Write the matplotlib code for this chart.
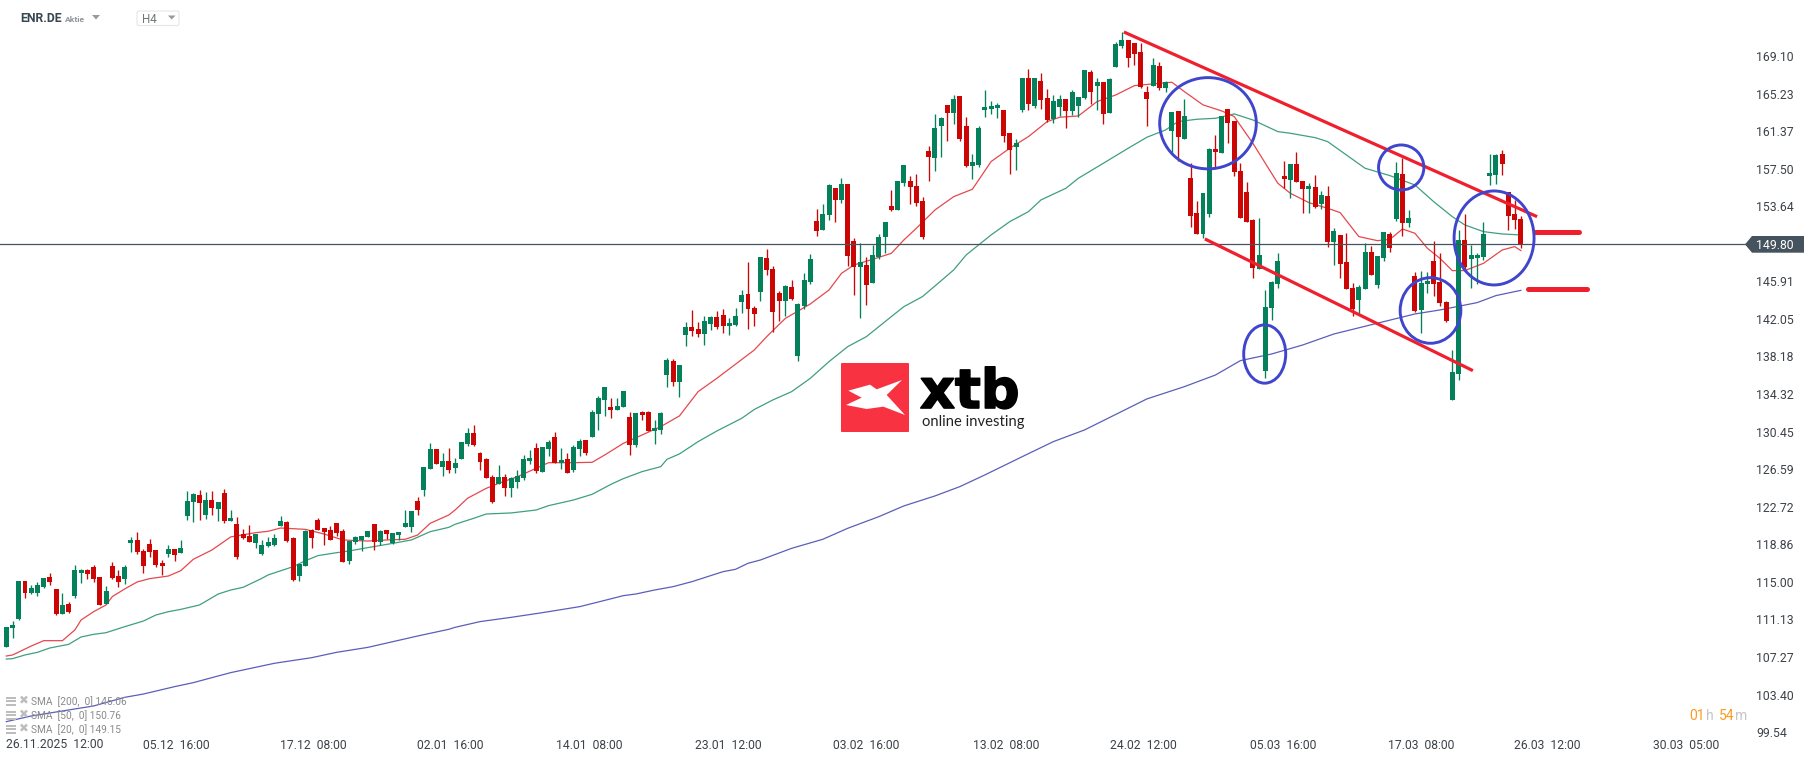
import matplotlib
matplotlib.use('Agg')
import matplotlib.pyplot as plt
import matplotlib.patheffects as pe
import numpy as np
from matplotlib.patches import Ellipse, Polygon, Rectangle, FancyBboxPatch
from matplotlib.transforms import Affine2D

# velas H4 ENR.DE
opens = [108.37,110.36,111.22,115.16,113.89,113.92,114.54,115.57,114.34,111.76,
 112.79,113.62,115.98,116.29,116.60,115.57,112.79,116.70,115.67,115.36,
 119.07,119.38,118.25,118.97,118.35,117.01,117.94,118.45,118.04,121.85,
 123.29,124.01,121.95,123.49,122.57,124.21,121.33,121.02,119.99,119.79,
 119.07,117.94,118.76,118.86,120.82,121.23,119.58,115.67,116.70,120.41,
 121.43,120.61,120.41,121.13,120.30,117.22,119.17,119.38,119.69,121.02,
 119.17,120.41,119.07,119.89,120.71,120.71,123.39,124.52,126.68,128.74,
 126.89,127.50,126.79,127.71,129.26,130.39,128.33,127.71,125.86,125.14,
 125.86,124.73,125.35,125.76,127.51,128.85,126.38,128.74,129.98,127.30,
 127.71,126.58,128.74,129.67,129.98,132.34,133.78,133.06,132.76,133.06,
 132.04,129.15,132.55,132.55,130.60,130.70,136.36,137.80,135.64,140.47,
 141.30,141.09,140.57,141.60,142.32,142.52,141.39,141.50,143.86,144.69,
 143.25,144.89,148.39,147.26,144.79,143.96,145.41,138.31,143.45,145.92,
 152.20,151.27,152.81,155.59,154.36,156.00,150.14,147.46,147.67,145.82,
 148.49,150.55,153.74,153.33,156.11,156.32,155.80,154.26,159.40,158.68,
 161.97,164.14,163.31,165.06,161.97,157.86,157.96,163.62,163.72,163.83,
 163.62,161.25,159.81,163.62,166.91,164.03,166.60,164.85,162.69,163.93,
 164.75,163.52,164.03,164.85,167.53,166.09,166.50,163.31,168.05,170.21,
 170.82,170.51,169.59,165.47,166.09,168.15,165.88,161.46,163.52,160.64,
 156.62,153.02,150.86,152.92,159.61,159.20,163.72,162.49,157.35,155.18,
 152.30,147.26,136.77,143.25,145.72,156.83,156.42,158.06,156.31,155.49,
 155.70,153.95,154.77,150.04,150.76,147.98,145.31,144.07,145.20,149.01,
 145.61,148.39,150.86,152.40,157.03,151.99,146.54,143.04,145.72,148.08,
 145.92,143.86,133.78,136.46,150.24,148.29,148.39,148.49,156.83,156.93,
 159.09,155.18,152.92,152.40]

closes = [110.43,110.63,115.16,113.92,114.44,114.75,115.47,115.06,111.76,112.69,
 111.97,116.29,116.29,115.88,115.36,112.69,114.13,115.47,115.06,116.60,
 119.38,118.14,116.70,118.14,116.80,116.70,118.45,117.83,118.55,123.39,
 124.11,123.18,123.49,122.67,123.29,121.33,121.64,117.63,119.58,119.17,
 119.99,118.86,119.17,119.58,121.33,119.27,115.26,116.91,120.30,119.58,
 120.41,120.20,119.38,120.10,117.11,119.27,119.69,119.79,120.30,119.17,
 120.30,119.99,120.10,120.20,121.13,122.36,122.46,126.89,128.74,127.20,
 127.50,126.58,127.30,129.46,130.39,129.15,127.41,125.76,123.29,125.86,
 124.73,125.76,125.96,127.71,127.82,126.48,128.95,129.46,127.30,127.61,
 126.27,128.95,129.57,128.33,132.55,133.99,135.12,132.76,133.17,134.71,
 129.15,132.45,132.24,130.60,130.90,132.45,137.90,135.64,137.39,141.30,
 140.88,140.57,141.91,142.32,141.30,141.39,141.70,142.42,144.58,143.14,
 142.63,148.49,147.15,142.83,143.96,145.51,144.17,143.66,146.13,148.29,
 151.17,152.92,155.90,154.36,156.00,148.59,147.46,147.98,145.61,148.70,
 150.55,152.09,153.33,156.31,157.96,155.70,154.05,150.56,158.79,161.77,
 162.80,163.31,164.75,160.64,157.86,158.27,161.77,163.93,164.03,164.14,
 160.95,159.51,160.23,166.91,164.24,166.91,164.65,162.59,164.55,164.75,
 163.52,165.47,164.96,167.74,165.47,166.50,163.21,166.81,170.41,170.82,
 168.97,169.38,165.99,164.75,168.25,165.88,166.50,163.41,160.84,163.00,
 152.71,150.86,155.08,159.61,159.30,163.00,162.28,157.24,152.51,152.10,
 147.36,148.70,143.35,145.92,148.08,156.52,158.06,156.21,155.49,155.80,
 153.64,154.87,150.04,151.17,147.77,145.20,143.14,145.41,149.01,146.64,
 148.60,151.07,149.42,157.14,151.99,152.51,142.94,145.82,146.03,145.72,
 143.76,141.91,136.66,150.24,147.47,148.70,148.70,150.86,157.14,158.99,
 158.06,152.71,152.30,149.83]

highs = [110.43,111.04,115.16,115.16,114.71,115.06,115.47,115.98,114.34,113.92,
 113.00,116.80,116.39,116.39,116.80,115.57,114.64,117.11,116.29,116.80,
 119.69,120.20,118.45,119.48,118.35,117.32,118.86,118.45,119.38,124.42,
 124.21,124.52,124.31,124.42,123.29,124.62,122.46,121.74,120.51,120.92,
 119.99,119.38,119.69,119.99,121.85,121.33,119.69,116.91,120.41,120.51,
 121.64,120.61,120.82,121.13,120.51,119.27,119.79,119.79,120.30,121.02,
 120.41,120.41,120.10,120.20,122.46,122.36,123.80,126.89,129.36,128.74,
 128.33,128.84,127.82,129.46,130.90,131.21,128.43,127.82,126.07,127.09,
 126.17,125.86,126.58,128.13,128.64,129.36,128.95,129.67,130.49,128.85,
 128.33,129.15,129.77,129.67,132.76,134.20,135.12,133.99,133.99,134.71,
 132.55,132.45,132.65,132.65,131.73,132.55,138.11,138.00,137.39,141.81,
 143.04,141.81,142.43,142.43,142.94,143.14,142.22,143.25,145.10,147.98,
 143.45,148.49,149.32,147.57,144.99,145.61,146.13,143.76,146.85,148.80,
 153.43,153.94,156.00,155.59,156.62,156.00,150.45,149.93,148.49,149.73,
 150.86,152.09,155.38,156.31,157.96,156.83,157.04,154.67,159.92,163.21,
 162.90,164.14,165.16,165.06,162.90,159.09,161.97,165.68,164.55,164.34,
 163.62,161.25,160.64,166.91,167.84,166.91,167.43,165.78,165.16,165.16,
 164.75,165.68,164.96,167.74,167.74,166.91,166.50,166.91,170.62,171.65,
 170.82,170.51,170.51,166.09,168.97,168.56,166.60,163.41,163.52,164.75,
 158.17,154.26,155.08,159.71,161.05,163.00,163.72,162.49,158.17,156.21,
 152.40,152.51,145.10,146.03,148.91,158.37,158.06,159.30,156.31,156.11,
 156.93,155.28,155.80,151.48,150.76,150.96,145.82,145.61,149.93,149.63,
 148.60,151.07,151.07,158.27,158.68,153.33,146.95,147.05,146.95,150.14,
 148.91,143.97,138.93,151.27,152.92,149.73,148.91,152.10,159.09,159.09,
 159.50,155.18,154.36,152.71]

lows = [108.37,109.29,111.15,113.41,113.82,113.65,114.44,114.75,111.66,111.76,
 111.87,113.41,114.95,115.36,115.06,112.69,112.79,115.36,114.54,114.85,
 118.14,117.94,115.98,117.63,116.60,115.78,117.63,117.22,118.04,121.43,
 121.23,121.43,121.54,121.95,121.33,121.13,121.33,117.42,119.48,119.17,
 118.55,117.83,118.66,118.76,120.82,119.17,115.16,115.16,116.70,118.55,
 120.41,118.86,119.38,119.79,117.11,116.91,118.97,118.25,119.69,118.35,
 118.86,119.48,118.97,119.38,120.71,120.20,121.95,123.90,126.68,127.20,
 125.96,126.27,126.27,127.71,129.05,129.05,126.58,125.76,123.19,125.14,
 123.90,123.80,124.73,125.55,127.20,126.27,126.38,128.02,127.30,126.69,
 126.27,126.38,128.02,128.13,129.98,130.70,132.14,131.93,132.76,133.06,
 128.13,128.95,131.73,130.60,129.26,130.29,135.12,135.23,134.09,139.34,
 140.37,140.27,139.44,140.99,141.09,140.67,140.47,141.39,142.73,141.08,
 141.39,143.96,146.64,140.78,141.91,142.42,144.07,137.80,143.14,145.71,
 150.65,151.27,152.30,152.09,154.05,147.57,144.58,142.22,143.55,145.82,
 148.29,148.90,153.22,153.33,155.80,153.95,153.74,150.35,156.32,157.35,
 158.79,160.43,162.18,160.43,157.76,156.52,157.76,162.90,163.21,162.80,
 160.33,157.04,157.45,163.41,163.62,163.83,163.72,162.39,162.28,163.00,
 161.77,163.11,162.90,164.75,164.24,163.62,162.18,163.31,168.05,170.00,
 168.05,168.25,165.88,161.97,166.09,165.68,165.47,159.20,158.37,160.64,
 151.58,150.86,150.45,152.61,157.76,159.20,160.23,156.83,152.51,152.10,
 146.33,147.26,136.05,142.01,145.31,155.59,154.56,156.21,153.02,153.02,
 153.53,153.43,149.52,147.67,146.33,145.20,142.42,142.63,145.20,146.64,
 145.31,148.08,149.01,152.20,150.66,151.58,142.84,140.68,144.79,144.48,
 143.45,141.81,133.78,135.84,147.05,145.31,145.72,148.19,155.90,156.00,
 156.93,151.27,151.37,149.42]

# medias moviles: vela (indice) y valor
sma20_idx = [0,1,2,4,6,9,11,12,14,16,17,19,21,23,26,28,30,33,36,40,42,44,48,51,54,58,61,64,66,68,71,
 72,74,77,79,82,85,87,91,94,96,99,102,105,108,111,114,120,122,125,129,132,134,136,139,142,144,146,
 149,152,155,158,161,164,167,169,172,175,178,181,185,187,189,192,195,197,200,204,206,209,212,214,
 217,220,222,224,226,228,230,232,234,237,240,242,243]
sma20_val = [107.44,107.55,107.85,108.47,109.02,109.02,110.12,111.15,112.00,112.69,113.55,114.34,115.06,115.40,115.67,116.22,117.39,118.35,119.69,120.13,120.27,120.61,120.47,119.99,119.38,119.27,119.38,119.45,119.89,121.09,121.95,
 122.46,123.67,124.69,125.21,125.89,126.75,127.33,127.33,127.37,128.12,129.32,130.18,131.04,132.14,134.64,136.01,138.92,140.30,142.18,143.66,145.10,146.81,147.67,148.25,148.87,150.24,151.44,
 153.33,154.70,155.46,158.31,159.68,160.88,162.42,162.87,163.00,164.48,165.16,166.12,166.36,166.47,165.51,164.14,163.52,162.94,160.19,156.08,155.05,154.08,153.50,153.06,
 150.59,150.17,150.31,151.37,150.93,149.39,148.36,147.09,147.09,147.84,149.21,149.56,149.15]

sma50_idx = [0,1,3,5,7,10,12,14,16,19,22,24,26,28,31,34,36,38,41,42,46,48,50,53,55,58,62,65,68,71,
 72,75,77,81,85,87,91,94,97,99,102,105,106,108,111,114,118,120,123,126,129,132,135,138,142,144,147,150,
 152,154,156,158,161,164,166,170,172,176,180,183,186,188,191,194,197,200,204,206,210,212,215,218,222,226,229,232,234,237,240,243]
sma50_val = [107.13,107.17,107.55,107.82,108.27,108.64,109.40,109.67,109.84,110.46,111.04,111.66,112.00,112.24,112.69,113.82,114.23,114.51,115.43,115.78,116.63,117.25,117.77,118.07,118.25,118.59,119.03,119.38,120.23,120.68,
 120.99,121.61,122.05,122.16,122.46,122.91,123.49,124.08,125.10,125.69,126.41,126.92,127.68,128.23,129.50,130.59,131.90,132.80,133.79,134.64,136.01,137.73,139.27,140.30,142.36,143.38,144.42,146.06,
 147.16,148.70,149.73,150.76,152.13,153.16,154.36,155.56,156.59,158.13,159.68,160.81,161.56,162.42,162.66,162.76,163.21,162.59,161.39,161.22,160.77,160.36,158.99,157.62,156.86,155.90,154.19,152.64,151.79,151.10,150.86,150.76]

sma200_idx = [0,4,10,14,19,22,27,30,34,36,43,49,53,58,66,71,72,76,81,86,92,95,99,101,104,107,110,115,117,119,121,
 126,131,135,140,144,149,153,157,163,168,173,183,189,194,198,203,208,213,221,226,230,236,239,243]
sma200_val = [100.69,101.27,101.89,102.30,103.19,103.53,104.29,104.70,105.39,105.73,106.69,107.27,107.82,108.33,109.50,110.19,110.39,110.98,111.42,111.90,112.52,113.00,113.65,113.82,114.23,114.58,115.09,116.12,116.36,116.98,117.32,
 118.52,119.45,120.58,121.78,122.88,123.91,124.87,126.07,127.95,129.50,130.70,133.89,135.15,136.35,137.83,138.51,139.44,140.57,141.84,142.63,143.04,143.80,144.52,145.06]

# ejes
price_ticks = [169.10,165.23,161.37,157.50,153.64,145.91,142.05,138.18,134.32,130.45,126.59,122.72,118.86,115.00,111.13,107.27,103.40,99.54]
last_price = 149.80
date_ticks = [27.2,49.2,71.2,93.6,115.8,138.0,160.4,182.4,204.8,227.0,247.3,269.5]
date_labels = ['05.12  16:00','17.12  08:00','02.01  16:00','14.01  08:00','23.01  12:00','03.02  16:00',
 '13.02  08:00','24.02  12:00','05.03  16:00','17.03  08:00','26.03  12:00','30.03  05:00']

# anotaciones a mano alzada (vela, precio)
trend_x = [[179.3,245.6],[192.3,235.3]]
trend_y = [[171.64,152.64],[150.35,136.80]]
level_x = [[245.3,252.3],[244.2,253.6]]
level_y = [151.10,145.17]
circle_x = [192.8,223.8,238.7,228.5,201.9]
circle_y = [162.25,157.70,150.45,142.99,138.51]
circle_w = [15.5,7.27,12.83,9.74,6.74]
circle_h = [9.39,4.63,9.67,6.75,6.0]

plt.rcParams['font.family'] = ['Roboto', 'DejaVu Sans']

GREEN = '#04805a'
RED = '#cc0605'
TXT = '#3c4248'

fig = plt.figure(figsize=(18.16,7.61), dpi=100, facecolor='white')
ax = fig.add_axes([0,0,1,1])
ax.set_xlim(-1.011,290.35)
ax.set_ylim(96.64,174.93)
ax.axis('off')

# coordenadas en pixeles para los elementos de interfaz
px = Affine2D().scale(1/1816,-1/761).translate(0,1) + fig.transFigure

ax.plot(sma200_idx,sma200_val,color='#5a5fb8',lw=0.9,zorder=2)
ax.plot(sma50_idx,sma50_val,color='#3f9f7e',lw=0.9,zorder=2)
ax.plot(sma20_idx,sma20_val,color='#e5484d',lw=0.9,zorder=2)

o = np.array(opens)
c = np.array(closes)
xs = np.arange(len(o))
cols = [GREEN if c[i] >= o[i] else RED for i in xs]
ax.vlines(xs,lows,highs,colors=cols,lw=0.95,zorder=3)
ax.bar(xs,np.abs(c-o),bottom=np.minimum(o,c),width=0.8,color=cols,linewidth=0,zorder=3)

ax.plot([-1.011,278.9],[last_price,last_price],color='#45535e',lw=0.9,zorder=4)

for i in range(2):
    ax.plot(trend_x[i],trend_y[i],color='#f01f2e',lw=2.3,zorder=5,solid_capstyle='butt')
    ax.plot(level_x[i],[level_y[i],level_y[i]],color='#f01f2e',lw=3.6,zorder=5,solid_capstyle='round')
for i in range(5):
    ax.add_patch(Ellipse((circle_x[i],circle_y[i]),circle_w[i],circle_h[i],fill=False,
                         edgecolor='#3f45cc',lw=2.1,zorder=6))

# etiquetas de precio
ytrans = ax.get_yaxis_transform()
for p in price_ticks:
    ax.text(1756/1816,p-0.08,'%.2f' % p,transform=ytrans,ha='left',va='center',fontsize=8.8,color=TXT)
ax.add_patch(Polygon([[1745,244.4],[1752,236],[1804,236],[1804,252.7],[1752,252.7]],closed=True,
                     transform=px,facecolor='#45535e',edgecolor='none',zorder=7,clip_on=False))
ax.text(1756/1816,last_price-0.08,'%.2f' % last_price,transform=ytrans,ha='left',va='center',fontsize=8.8,color='white',zorder=8)

# etiquetas de fecha
for t,lab in zip(date_ticks,date_labels):
    ax.text(t,0.021,lab,transform=ax.get_xaxis_transform(),ha='center',va='center',fontsize=8.7,color=TXT)
fig.text(6/1816,1-745/761,'26.11.2025  12:00',ha='left',va='center',fontsize=8.7,color=TXT)

# cabecera
fig.text(20/1816,1-19/761,'ENR.DE',ha='left',va='center',fontsize=8.8,fontweight='bold',color='#37474f')
fig.text(65/1816,1-19.3/761,'Aktie',ha='left',va='center',fontsize=6.1,fontweight='bold',color='#8d9499')
fig.add_artist(Polygon([[92,15],[100,15],[96,19.5]],transform=px,facecolor='#9a9a9a',edgecolor='none'))
fig.add_artist(FancyBboxPatch((137,11),42,14.5,boxstyle='round,pad=0,rounding_size=2',transform=px,
                              facecolor='white',edgecolor='#e6e6e6',lw=0.8))
fig.text(142/1816,1-19.5/761,'H4',ha='left',va='center',fontsize=8.4,color='#6f7579')
fig.add_artist(Polygon([[168,15.5],[175.5,15.5],[171.7,19.5]],transform=px,facecolor='#9a9a9a',edgecolor='none'))

# leyenda SMA
legend_rows = ['SMA  [200,  0] 145.06','SMA  [50,  0] 150.76','SMA  [20,  0] 149.15']
for r,lab in enumerate(legend_rows):
    y = 701+14*r
    for d in (-3.5,0,3.5):
        fig.add_artist(Rectangle((6,y+d-1),10,2,transform=px,facecolor='#bdbdbd',edgecolor='none'))
    fig.text(23.5/1816,1-y/761,'\u2716',ha='center',va='center',fontsize=8.5,color='#bdbdbd',family='DejaVu Sans')
    fig.text(31/1816,1-(y+1)/761,lab,ha='left',va='center',fontsize=7.3,color='#8a8a8a')

# cuenta atras
for xp,txt,col in [(1689.5,'01','#ff9a1f'),(1706,'h','#c4c4c4'),(1718.5,'54','#ff9a1f'),(1735.5,'m','#c4c4c4')]:
    fig.text(xp/1816,1-716/761,txt,ha='left',va='center',fontsize=10,color=col)

# logo
fig.add_artist(FancyBboxPatch((841,363),68,69,boxstyle='round,pad=0,rounding_size=1',transform=px,
                              facecolor='#f93241',edgecolor='none'))
xshape = [[85,122],[150,104],[170,118],[246,90],[200,135],[255,195],[190,170],[140,177],[78,165],[125,143]]
xshape = [[820+a/3,350+b/3] for a,b in xshape]
fig.add_artist(Polygon(xshape,closed=True,transform=px,facecolor='white',edgecolor='none'))
fig.text(920/1816,1-408/761,'xtb',ha='left',va='baseline',fontsize=39,fontweight='bold',color='black',
         family='DejaVu Sans',path_effects=[pe.withStroke(linewidth=1.2,foreground='black')])
fig.text(921.5/1816,1-422/761,'online investing',ha='left',va='center',fontsize=10.6,color='#222222',family='Lato')

fig.savefig('out.png',dpi=100)
